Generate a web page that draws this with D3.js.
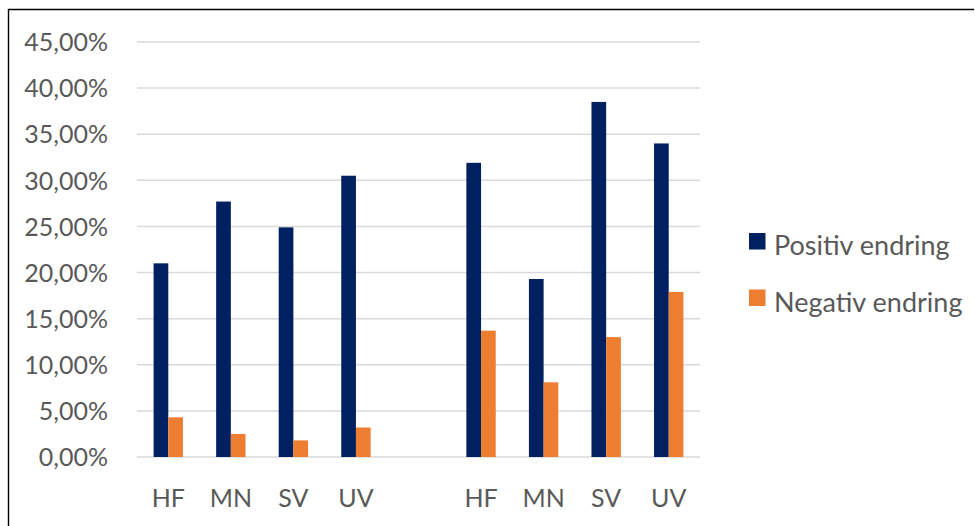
<!DOCTYPE html>
<html>
<head>
<meta charset="utf-8">
<script src="https://cdn.jsdelivr.net/npm/d3@7"></script>
<style>
  html, body { margin: 0; padding: 0; background: #fff; }
  svg { display: block; }
  text { font-family: Lato, "Open Sans", sans-serif; fill: #595959; }
</style>
</head>
<body>
<svg id="chart" width="975" height="526"></svg>
<script>
// ---- data ----
const categories = ["HF", "MN", "SV", "UV"];
const seriesNames = ["Positiv endring", "Negativ endring"];
const positiv1 = [21.0, 27.7, 24.9, 30.5];
const negativ1 = [4.3, 2.5, 1.8, 3.2];
const positiv2 = [31.9, 19.3, 38.5, 34.0];
const negativ2 = [13.7, 8.1, 13.0, 17.9];
const yTicks = [0, 5, 10, 15, 20, 25, 30, 35, 40, 45];
const colors = ["#002060", "#ED7D31"];

// build rows: group 1, spacer, group 2
const rows = [];
categories.forEach((c, i) => rows.push({ key: "a" + i, label: c, values: [positiv1[i], negativ1[i]] }));
rows.push({ key: "gap", label: "", values: [] });
categories.forEach((c, i) => rows.push({ key: "b" + i, label: c, values: [positiv2[i], negativ2[i]] }));

const svg = d3.select("#chart");

// frame (top and left edges visible)
svg.append("line").attr("x1", 8).attr("x2", 974).attr("y1", 9.5).attr("y2", 9.5)
  .attr("stroke", "#000").attr("stroke-width", 1.4);
svg.append("line").attr("x1", 8.5).attr("x2", 8.5).attr("y1", 9).attr("y2", 526)
  .attr("stroke", "#000").attr("stroke-width", 1.4);

const x = d3.scaleBand().domain(rows.map(r => r.key)).range([137, 700]).padding(0);
const xs = d3.scaleBand().domain([0, 1]).range([0, x.bandwidth()]).paddingInner(0).paddingOuter(1.13);
const y = d3.scaleLinear().domain([0, 45]).range([457, 42]);

// gridlines
svg.append("g").selectAll("line").data(yTicks).join("line")
  .attr("x1", 137).attr("x2", 700)
  .attr("y1", d => y(d)).attr("y2", d => y(d))
  .attr("stroke", "#d9d9d9").attr("stroke-width", 1.5);

// y axis labels
const yAxis = d3.axisLeft(y).tickValues(yTicks).tickSize(0).tickPadding(0)
  .tickFormat(d => d.toFixed(2).replace(".", ",") + "%");
const gy = svg.append("g").attr("transform", "translate(108,0)").call(yAxis);
gy.select(".domain").remove();
gy.selectAll("text").attr("font-size", 25).attr("font-family", "Lato, sans-serif")
  .attr("fill", "#595959").attr("dy", "0.35em");

// bars
const gRows = svg.append("g").selectAll("g").data(rows.filter(r => r.values.length)).join("g")
  .attr("transform", d => `translate(${x(d.key)},0)`);
gRows.selectAll("rect").data(d => d.values.map((v, i) => ({ v, i }))).join("rect")
  .attr("x", d => xs(d.i)).attr("width", xs.bandwidth())
  .attr("y", d => y(d.v)).attr("height", d => y(0) - y(d.v))
  .attr("fill", d => colors[d.i]);

// x axis labels
const xAxis = d3.axisBottom(x).tickSize(0).tickPadding(0)
  .tickFormat(k => (rows.find(r => r.key === k) || {}).label);
const gx = svg.append("g").attr("transform", "translate(0,507)").call(xAxis);
gx.select(".domain").remove();
gx.selectAll("text").attr("font-size", 25).attr("font-family", "Lato, sans-serif")
  .attr("fill", "#595959").attr("dy", 0);

// legend
const lg = svg.append("g").selectAll("g").data(seriesNames).join("g")
  .attr("transform", (d, i) => `translate(749,${233 + i * 56.5})`);
lg.append("rect").attr("width", 16.5).attr("height", 16.5).attr("fill", (d, i) => colors[i]);
lg.append("text").attr("x", 25).attr("y", 22).attr("font-size", 27).text(d => d);
</script>
</body>
</html>
